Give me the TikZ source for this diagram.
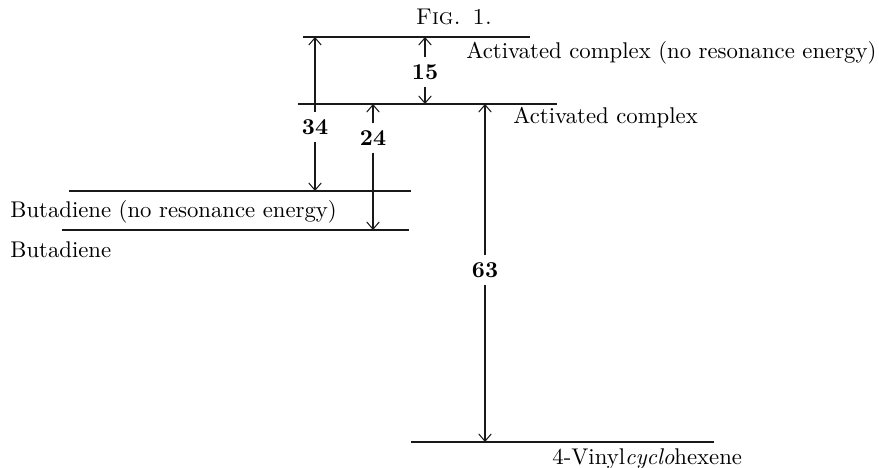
\documentclass[tikz,border=0pt]{standalone}
\usepackage{amsmath}
\usepackage{xcolor}
\usepackage{tikz}
\usetikzlibrary{arrows.meta,positioning,calc}
\definecolor{enline}{RGB}{25,25,25}

\begin{document}
\begin{tikzpicture}[
  x=0.44pt, y=-0.44pt,
  font=\normalsize,
  level/.style={draw=enline, line width=0.45pt},
  gap/.style={draw=enline, line width=0.45pt, -{Straight Barb[length=3.2pt,width=5.5pt]}},
  val/.style={font=\bfseries, inner sep=3pt},
  tag/.style={anchor=west, inner sep=0pt}
]
\useasboundingbox (0,0) rectangle (879,468);
\node[inner sep=0pt] (fig) at (454,17) {\textsc{Fig. 1.}};
\coordinate (actnrA) at (303,37);  \coordinate (actnrB) at (530,37);
\coordinate (actA) at (298,104);   \coordinate (actB) at (557,104);
\coordinate (butnrA) at (69,191);  \coordinate (butnrB) at (411,191);
\coordinate (butA) at (62,230);    \coordinate (butB) at (409,230);
\coordinate (vinA) at (411,442);   \coordinate (vinB) at (714,442);
\draw[level] (actnrA) -- (actnrB);
\draw[level] (actA) -- (actB);
\draw[level] (butnrA) -- (butnrB);
\draw[level] (butA) -- (butB);
\draw[level] (vinA) -- (vinB);
\node[tag] (actnrT) at (466,53) {Activated complex (no resonance energy)};
\node[tag] (actT) at (513,118) {Activated complex};
\node[tag] (butnrT) at (10,212) {Butadiene (no resonance energy)};
\node[tag] (butT) at (10,250) {Butadiene};
\node[tag] (vinT) at (552,459) {4-Vinyl\textit{cyclo}hexene};
\node[val] (e15) at (425,72) {15};
\node[val] (e34) at (315,127) {34};
\node[val] (e24) at (373,138) {24};
\node[val] (e63) at (485,270) {63};
\draw[gap] (e15) -- (e15 |- actnrA);
\draw[gap] (e15) -- (e15 |- actA);
\draw[gap] (e34) -- (e34 |- actnrA);
\draw[gap] (e34) -- (e34 |- butnrA);
\draw[gap] (e24) -- (e24 |- actA);
\draw[gap] (e24) -- (e24 |- butA);
\draw[gap] (e63) -- (e63 |- actA);
\draw[gap] (e63) -- (e63 |- vinA);
\end{tikzpicture}
\end{document}
